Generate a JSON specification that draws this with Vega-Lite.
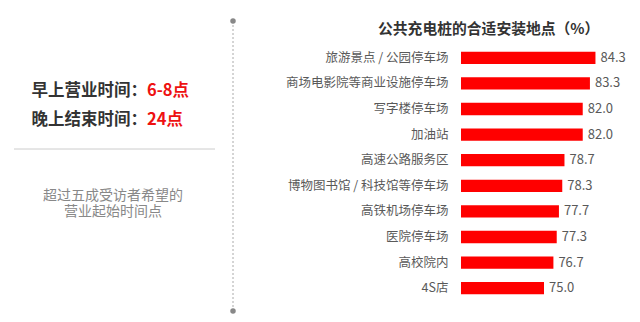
{
  "$schema": "https://vega.github.io/schema/vega-lite/v6.json",
  "padding": {"top": 18, "left": 0, "right": 0, "bottom": 0},
  "background": "white",
  "config": {"view": {"stroke": null}, "font": "Noto Sans CJK SC"},
  "spacing": 45,
  "hconcat": [
    {
      "width": 240,
      "height": 256,
      "layer": [
        {
          "data": {"values": [{"k": "sep"}]},
          "mark": {"type": "rule", "color": "#aaaaaa", "strokeDash": [2, 2], "strokeWidth": 1},
          "encoding": {
            "x": {"datum": 233, "type": "quantitative", "scale": {"domain": [0, 240], "nice": false, "zero": false}, "axis": null},
            "y": {"datum": 21, "type": "quantitative", "scale": {"domain": [45, 301], "reverse": true, "nice": false, "zero": false}, "axis": null},
            "y2": {"datum": 311}
          }
        },
        {
          "data": {"values": [{"k": "top"}]},
          "mark": {"type": "circle", "color": "#888888", "size": 30, "opacity": 1},
          "encoding": {"x": {"datum": 233, "type": "quantitative"}, "y": {"datum": 21, "type": "quantitative"}}
        },
        {
          "data": {"values": [{"k": "bottom"}]},
          "mark": {"type": "circle", "color": "#888888", "size": 30, "opacity": 1},
          "encoding": {"x": {"datum": 233, "type": "quantitative"}, "y": {"datum": 311, "type": "quantitative"}}
        },
        {
          "data": {"values": [{"t": "早上营业时间："}]},
          "mark": {"type": "text", "align": "right", "baseline": "middle", "fontSize": 16.5, "fontWeight": "bold", "color": "#333333"},
          "encoding": {"x": {"datum": 147, "type": "quantitative"}, "y": {"datum": 91, "type": "quantitative"}, "text": {"field": "t"}}
        },
        {
          "data": {"values": [{"t": "6-8点"}]},
          "mark": {"type": "text", "align": "left", "baseline": "middle", "fontSize": 16.5, "fontWeight": "bold", "color": "#ee1111"},
          "encoding": {"x": {"datum": 147, "type": "quantitative"}, "y": {"datum": 91, "type": "quantitative"}, "text": {"field": "t"}}
        },
        {
          "data": {"values": [{"t": "晚上结束时间："}]},
          "mark": {"type": "text", "align": "right", "baseline": "middle", "fontSize": 16.5, "fontWeight": "bold", "color": "#333333"},
          "encoding": {"x": {"datum": 147, "type": "quantitative"}, "y": {"datum": 120, "type": "quantitative"}, "text": {"field": "t"}}
        },
        {
          "data": {"values": [{"t": "24点"}]},
          "mark": {"type": "text", "align": "left", "baseline": "middle", "fontSize": 16.5, "fontWeight": "bold", "color": "#ee1111"},
          "encoding": {"x": {"datum": 147, "type": "quantitative"}, "y": {"datum": 120, "type": "quantitative"}, "text": {"field": "t"}}
        },
        {
          "data": {"values": [{"k": "divider"}]},
          "mark": {"type": "rule", "color": "#cccccc", "strokeWidth": 1},
          "encoding": {"x": {"datum": 14, "type": "quantitative"}, "x2": {"datum": 215}, "y": {"datum": 149, "type": "quantitative"}}
        },
        {
          "data": {"values": [{"t": ["超过五成受访者希望的", "营业起始时间点"]}]},
          "mark": {"type": "text", "align": "center", "baseline": "middle", "fontSize": 14, "lineHeight": 16.5, "color": "#888888"},
          "encoding": {"x": {"datum": 113, "type": "quantitative"}, "y": {"datum": 195.5, "type": "quantitative"}, "text": {"field": "t"}}
        }
      ]
    },
    {
      "width": 166,
      "height": 256,
      "title": {"text": "公共充电桩的合适安装地点（%）", "anchor": "start", "frame": "group", "dx": -83, "fontSize": 14.8, "fontWeight": "bold", "color": "#333333", "offset": 8},
      "data": {
        "values": [
          {"place": "旅游景点 / 公园停车场", "pct": 84.3},
          {"place": "商场电影院等商业设施停车场", "pct": 83.3},
          {"place": "写字楼停车场", "pct": 82.0},
          {"place": "加油站", "pct": 82.0},
          {"place": "高速公路服务区", "pct": 78.7},
          {"place": "博物图书馆 / 科技馆等停车场", "pct": 78.3},
          {"place": "高铁机场停车场", "pct": 77.7},
          {"place": "医院停车场", "pct": 77.3},
          {"place": "高校院内", "pct": 76.7},
          {"place": "4S店", "pct": 75.0}
        ]
      },
      "encoding": {
        "y": {
          "field": "place", "type": "nominal", "sort": null,
          "scale": {"paddingInner": 0.52, "paddingOuter": 0.26},
          "axis": {"title": null, "domain": false, "ticks": false, "labelPadding": 13, "labelFontSize": 12.5, "labelColor": "#595959", "labelFont": "Noto Sans CJK SC"}
        },
        "x": {"field": "pct", "type": "quantitative", "scale": {"domain": [60, 90], "zero": false, "nice": false}, "axis": null}
      },
      "layer": [
        {"mark": {"type": "bar", "color": "#ff0000"}, "encoding": {"x2": {"datum": 60}}},
        {
          "mark": {"type": "text", "align": "left", "baseline": "middle", "dx": 5, "fontSize": 13, "color": "#595959"},
          "encoding": {"text": {"field": "pct", "type": "quantitative", "format": ".1f"}}
        }
      ]
    }
  ]
}
